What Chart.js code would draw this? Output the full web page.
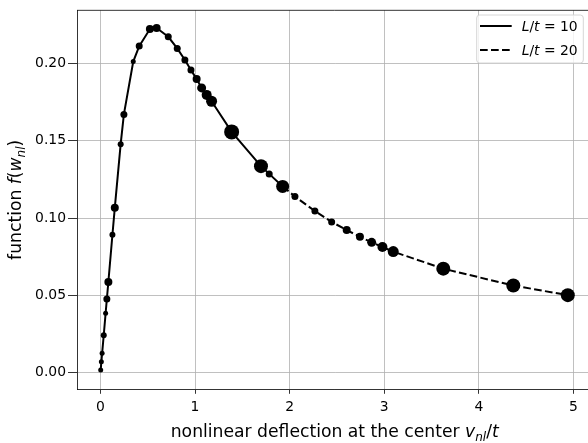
<!DOCTYPE html>
<html>
<head>
<meta charset="utf-8">
<script src="https://cdn.jsdelivr.net/npm/chart.js@4.4.0/dist/chart.umd.min.js"></script>
<style>
  html, body { margin: 0; padding: 0; background: #fff; overflow: hidden; }
  #wrap { width: 600px; height: 443px; }
</style>
</head>
<body>
<div id="wrap"><canvas id="chart" width="600" height="443"></canvas></div>
<script>
// L/t = 10 (solid)
const xA = [0.003, 0.010, 0.018, 0.035, 0.055, 0.068, 0.084, 0.127, 0.152, 0.214, 0.248, 0.347, 0.410,
            0.523, 0.594, 0.717, 0.812, 0.893, 0.957, 1.017, 1.070, 1.123, 1.175, 1.387, 1.697, 1.784, 1.926];
const yA = [0.0019, 0.0072, 0.0126, 0.0243, 0.0385, 0.0477, 0.0587, 0.0892, 0.1066, 0.1477, 0.1669, 0.2010, 0.2110,
            0.2220, 0.2227, 0.2170, 0.2095, 0.2020, 0.1956, 0.1897, 0.1840, 0.1795, 0.1754, 0.1556, 0.1335, 0.1285, 0.1204];
// L/t = 20 (dashed)
const xB = [1.926, 2.056, 2.267, 2.444, 2.603, 2.743, 2.867, 2.981, 3.095, 3.624, 4.364, 4.940];
const yB = [0.1204, 0.1139, 0.1045, 0.0975, 0.0922, 0.0879, 0.0843, 0.0813, 0.0783, 0.0673, 0.0564, 0.0502];

const xTicks = [0, 1, 2, 3, 4, 5];
const yTicks = [0, 0.05, 0.10, 0.15, 0.20];

// marker radii
const radiusA = [2.5, 2.5, 2.5, 3, 2.5, 3.5, 4, 3, 4, 3, 3.5, 2.5, 3.5,
                 4, 4, 3.5, 3.5, 3.5, 3.5, 4, 4.5, 5, 5.5, 7.5, 7, 3.5, 6.5];
const radiusB = [0, 3.5, 3.5, 3.5, 4, 4, 4.5, 5, 5.5, 7, 7, 7];

const FONT = '"DejaVu Sans", sans-serif';

function partFont(p, size) {
    const s = p.sub ? size * 0.7 : size;
    return (p.it ? 'italic ' : '') + s + 'px ' + FONT;
}

function richWidth(ctx, parts, size) {
    let w = 0;
    parts.forEach(p => {
        ctx.font = partFont(p, size);
        w += ctx.measureText(p.t).width;
    });
    return w;
}

function drawRich(ctx, parts, x, y, size) {
    let cx = x;
    parts.forEach(p => {
        ctx.font = partFont(p, size);
        ctx.fillText(p.t, cx, p.sub ? y + size * 0.22 : y);
        cx += ctx.measureText(p.t).width;
    });
}

const xTitle = [{ t: 'nonlinear deflection at the center ' }, { t: 'v', it: true }, { t: 'nl', it: true, sub: true },
                { t: '/' }, { t: 't', it: true }];
const yTitle = [{ t: 'function ' }, { t: 'f', it: true }, { t: '(' }, { t: 'w', it: true },
                { t: 'nl', it: true, sub: true }, { t: ')' }];
const legendItems = [
    { parts: [{ t: 'L', it: true }, { t: '/' }, { t: 't', it: true }, { t: ' = 10' }], dash: [] },
    { parts: [{ t: 'L', it: true }, { t: '/' }, { t: 't', it: true }, { t: ' = 20' }], dash: [7.7, 3.3] }
];

const decorations = {
    id: 'decorations',
    afterDraw(chart) {
        const ctx = chart.ctx;
        const area = chart.chartArea;
        ctx.save();
        // top spine
        ctx.strokeStyle = '#000';
        ctx.lineWidth = 0.8;
        ctx.beginPath();
        ctx.moveTo(area.left, area.top);
        ctx.lineTo(area.right, area.top);
        ctx.stroke();

        ctx.fillStyle = '#000';
        ctx.textBaseline = 'alphabetic';
        // x title
        const xs = 17.2;
        const xw = richWidth(ctx, xTitle, xs);
        drawRich(ctx, xTitle, (area.left + area.right) / 2 - xw / 2, 437, xs);
        // y title
        const yw = richWidth(ctx, yTitle, xs);
        ctx.save();
        ctx.translate(21, (area.top + area.bottom) / 2);
        ctx.rotate(-Math.PI / 2);
        drawRich(ctx, yTitle, -yw / 2, 0, xs);
        ctx.restore();

        // legend box
        const bx = 476.7, by = 15, bw = 106.6, bh = 48;
        ctx.fillStyle = 'rgba(255,255,255,0.8)';
        ctx.strokeStyle = '#d6d6d6';
        ctx.lineWidth = 1;
        ctx.beginPath();
        ctx.roundRect(bx, by, bw, bh, 3);
        ctx.fill();
        ctx.stroke();
        legendItems.forEach((item, i) => {
            const ly = 26 + i * 24;
            ctx.strokeStyle = '#000';
            ctx.lineWidth = 2;
            ctx.setLineDash(item.dash);
            ctx.beginPath();
            ctx.moveTo(480, ly);
            ctx.lineTo(511.7, ly);
            ctx.stroke();
            ctx.setLineDash([]);
            ctx.fillStyle = '#000';
            drawRich(ctx, item.parts, 521.7, ly + 5, 13.9);
        });
        ctx.restore();
    }
};

new Chart(document.getElementById('chart'), {
    type: 'line',
    data: {
        datasets: [{
            label: 'L/t = 10',
            data: xA.map((x, i) => ({ x: x, y: yA[i] })),
            borderColor: '#000',
            borderWidth: 2,
            backgroundColor: '#000',
            pointBackgroundColor: '#000',
            pointBorderWidth: 0,
            pointRadius: radiusA,
            tension: 0
        }, {
            label: 'L/t = 20',
            data: xB.map((x, i) => ({ x: x, y: yB[i] })),
            borderColor: '#000',
            borderWidth: 2,
            borderDash: [7.7, 3.3],
            backgroundColor: '#000',
            pointBackgroundColor: '#000',
            pointBorderWidth: 0,
            pointRadius: radiusB,
            tension: 0
        }]
    },
    options: {
        responsive: false,
        animation: false,
        devicePixelRatio: 1,
        layout: { padding: { top: 7.3, right: 7.6, left: 0, bottom: 0 } },
        plugins: { legend: { display: false }, tooltip: { enabled: false } },
        scales: {
            x: {
                type: 'linear',
                min: -0.2475,
                max: 5.2,
                afterBuildTicks: s => { s.ticks = xTicks.map(v => ({ value: v })); },
                afterFit: s => { s.height = 53.7; },
                grid: { color: '#b0b0b0', lineWidth: 0.8, tickColor: '#000', tickLength: 4.5 },
                border: { color: '#000', width: 0.8 },
                ticks: { color: '#000', font: { family: FONT, size: 13.9 }, padding: 5, maxRotation: 0,
                         callback: v => String(v) }
            },
            y: {
                type: 'linear',
                min: -0.0106,
                max: 0.2341,
                afterBuildTicks: s => { s.ticks = yTicks.map(v => ({ value: v })); },
                afterFit: s => { s.width = 77; },
                grid: { color: '#b0b0b0', lineWidth: 0.8, tickColor: '#000', tickLength: 9 },
                border: { color: '#000', width: 0.8 },
                ticks: { color: '#000', font: { family: FONT, size: 13.9 }, padding: 2,
                         callback: v => v.toFixed(2) }
            }
        }
    },
    plugins: [decorations]
});
</script>
</body>
</html>
